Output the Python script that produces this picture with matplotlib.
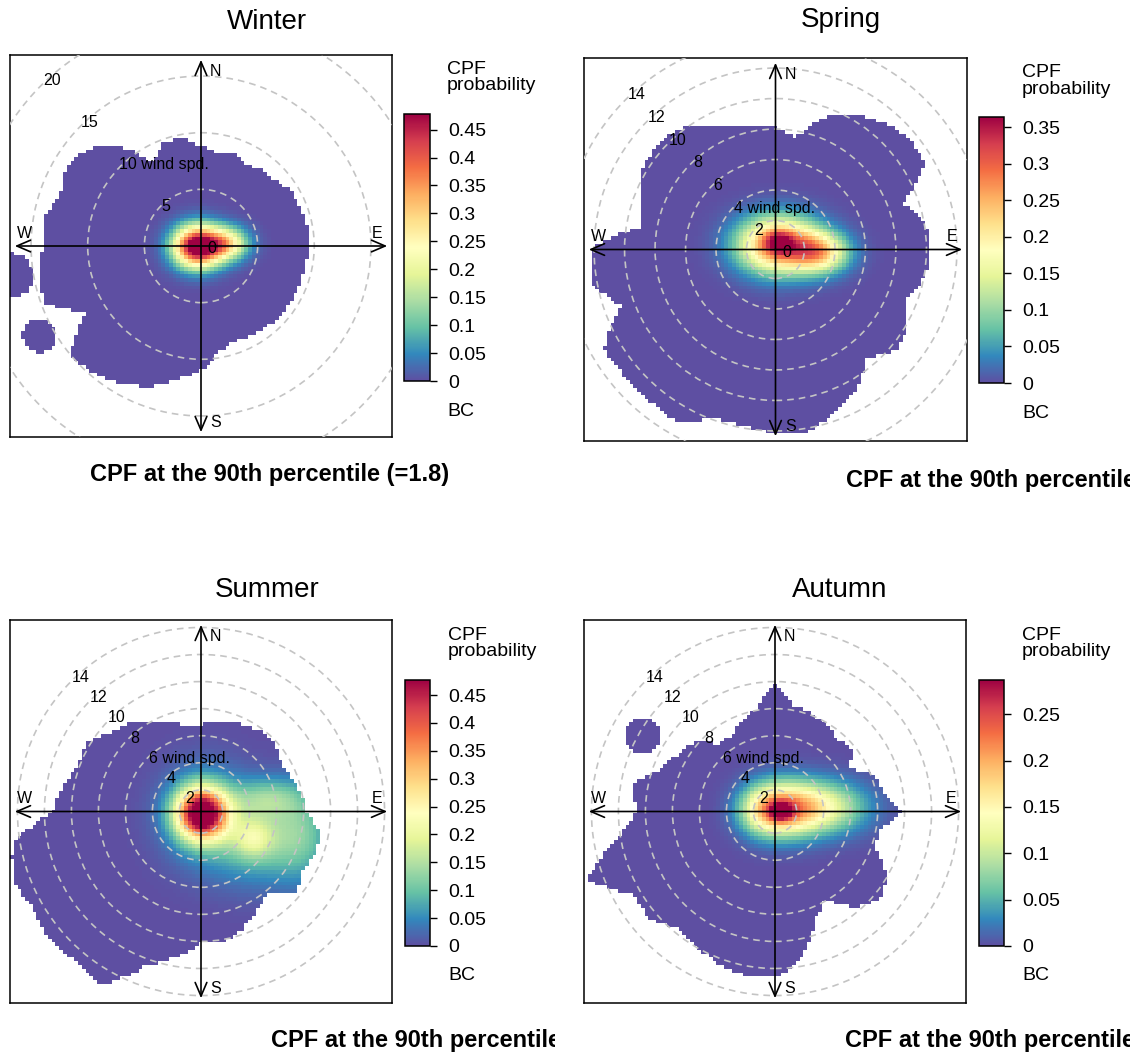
import numpy as np
import matplotlib
matplotlib.use("Agg")
import matplotlib.pyplot as plt
from matplotlib.patches import Circle
from matplotlib.transforms import Bbox
from matplotlib.cm import ScalarMappable
from matplotlib.colors import Normalize

plt.rcParams['font.family'] = ['Liberation Sans', 'DejaVu Sans']

W, H = 1138, 1057

seasons = ["Winter", "Spring", "Summer", "Autumn"]

# compass direction (deg clockwise from N) of each edge reading
edge_dirs = np.arange(0, 360, 10)

# outer edge of the plotted surface per direction (radial plot units)
winter_edge = [8.8, 8.3, 8.6, 8.3, 8.6, 8.8, 9.4, 9.4, 9.5, 9.6, 9.4, 9.4,
               9.4, 9.3, 9.2, 9.0, 8.9, 9.4, 11.0, 11.9, 13.2, 14.0, 14.7, 15.0,
               11.8, 14.7, 14.5, 13.9, 14.1, 13.2, 13.8, 13.2, 11.7, 8.4, 9.7, 9.6]
spring_edge = [8.0, 7.4, 9.2, 10.2, 10.9, 11.4, 11.3, 8.9, 10.0, 10.1, 10.0, 9.2,
               10.0, 10.3, 9.2, 10.7, 11.3, 12.2, 12.1, 11.7, 11.8, 13.0, 12.9, 12.9,
               13.0, 10.8, 12.3, 12.1, 8.9, 9.3, 10.2, 10.3, 10.2, 9.4, 8.5, 8.1]
summer_edge = [6.4, 6.7, 7.0, 7.2, 7.5, 7.3, 6.9, 7.1, 7.6, 7.7, 9.0, 9.0,
               8.7, 9.3, 7.8, 8.3, 9.2, 9.8, 9.8, 10.9, 12.2, 14.8, 14.4, 14.7,
               14.3, 14.8, 14.2, 11.0, 10.4, 9.7, 9.9, 9.0, 8.4, 7.5, 6.9, 6.5]
autumn_edge = [9.5, 7.9, 7.8, 7.4, 7.1, 7.3, 6.4, 7.8, 8.1, 9.3, 7.9, 7.8,
               9.6, 10.1, 9.3, 7.4, 8.6, 11.1, 12.3, 12.3, 12.1, 11.5, 11.3, 12.2,
               12.2, 14.8, 11.9, 10.1, 10.8, 9.0, 8.4, 7.9, 6.5, 6.5, 7.0, 7.7]

# detached patches: (direction deg, distance, radius)
winter_islands = [(241, 16.3, 1.5), (261, 17.0, 2.0)]
spring_islands = []
summer_islands = []
autumn_islands = [(300, 11.3, 1.35)]

# CPF hot spots: (x east, y north, amplitude, spread x, spread y)
winter_spots = [(-0.3, -0.05, 0.55, 1.45, 1.25), (2.3, 0.2, 0.25, 1.3, 1.0)]
spring_spots = [(0.2, 0.3, 0.31, 1.8, 1.25), (0.2, 0.5, 0.10, 0.6, 0.5),
                (2.9, -0.2, 0.20, 1.3, 0.9)]
summer_spots = [(0.05, -0.15, 0.50, 1.3, 1.3), (0.3, 0.0, 0.07, 2.2, 2.4),
                (3.9, -2.0, 0.10, 1.0, 1.0), (4.5, -2.0, 0.11, 3.0, 2.2),
                (7.5, -1.5, 0.06, 1.5, 2.5), (5.0, 1.0, 0.09, 1.8, 1.0)]
autumn_spots = [(0.45, 0.0, 0.12, 0.55, 0.45), (0.6, 0.15, 0.16, 1.7, 1.35),
                (3.3, 0.3, 0.13, 2.3, 1.3), (-1.0, 0.1, 0.08, 1.2, 1.2)]

# wind speed rings and minimum wind speed
winter_rings = [0, 5, 10, 15, 20]
spring_rings = [0, 2, 4, 6, 8, 10, 12, 14]
summer_rings = [2, 4, 6, 8, 10, 12, 14]
autumn_rings = [2, 4, 6, 8, 10, 12, 14]
ws_min = [0.0, 0.1, 0.4, 0.4]
half_range = [16.86, 12.56, 14.15, 14.15]

# colour scale
vmax = [0.478, 0.364, 0.477, 0.287]
winter_ticks = [0, 0.05, 0.1, 0.15, 0.2, 0.25, 0.3, 0.35, 0.4, 0.45]
spring_ticks = [0, 0.05, 0.1, 0.15, 0.2, 0.25, 0.3, 0.35]
summer_ticks = [0, 0.05, 0.1, 0.15, 0.2, 0.25, 0.3, 0.35, 0.4, 0.45]
autumn_ticks = [0, 0.05, 0.1, 0.15, 0.2, 0.25]

edges = [winter_edge, spring_edge, summer_edge, autumn_edge]
islands = [winter_islands, spring_islands, summer_islands, autumn_islands]
spots = [winter_spots, spring_spots, summer_spots, autumn_spots]
rings = [winter_rings, spring_rings, summer_rings, autumn_rings]
ticks = [winter_ticks, spring_ticks, summer_ticks, autumn_ticks]

xlabel = "CPF at the 90th percentile (=1.8)"

# layout in pixels: plot box (x0, y0, x1, y1), colour bar box, titles etc.
boxes = [(10, 55, 392, 437), (584, 58, 967, 441), (10, 620, 392, 1003), (584, 620, 966, 1003)]
cboxes = [(404, 114, 430, 381), (979, 117, 1004, 383), (405, 680, 430, 946), (979, 680, 1004, 946)]
title_pos = [(267, 22), (841, 20), (267, 590), (840, 590)]
xlab_pos = [(90, 475), (846, 480), (271, 1040), (845, 1040)]
xlab_clip = [1130, 1130, 555, 1130]

fig = plt.figure(figsize=(W / 100, H / 100), dpi=100)


def fx(x):
    return x / W


def fy(y):
    return 1 - y / H


def field(X, Y, spot_list):
    Z = np.zeros_like(X)
    for x0, y0, a, sx, sy in spot_list:
        Z += a * np.exp(-0.5 * ((X - x0) / sx) ** 2 - 0.5 * ((Y - y0) / sy) ** 2)
    return Z


cmap = plt.get_cmap('Spectral_r')

for i, name in enumerate(seasons):
    L = half_range[i]
    x0, y0, x1, y1 = boxes[i]
    ax = fig.add_axes([fx(x0), fy(y1), (x1 - x0) / W, (y1 - y0) / H])
    pxu = (x1 - x0) / 2 / L

    g = np.linspace(-L, L, 102)
    c = 0.5 * (g[1:] + g[:-1])
    X, Y = np.meshgrid(c, c)
    R = np.hypot(X, Y)
    comp = np.degrees(np.arctan2(X, Y)) % 360
    lim = np.interp(comp, edge_dirs, edges[i], period=360)
    inside = R <= lim
    for d, s, rad in islands[i]:
        cx, cy = s * np.sin(np.radians(d)), s * np.cos(np.radians(d))
        inside |= np.hypot(X - cx, Y - cy) <= rad
    Z = np.ma.masked_where(~inside, field(X, Y, spots[i]))
    ax.pcolormesh(g, g, Z, cmap=cmap, vmin=0, vmax=vmax[i], shading='flat')

    # dashed rings and labels
    for k, ws in enumerate(rings[i]):
        r = ws - ws_min[i]
        if r > 0.5:
            ax.add_patch(Circle((0, 0), r, fill=False, ec='#C4C4C4', lw=1.2,
                                ls=(0, (4, 3)), zorder=3))
        if ws == 0:
            ax.annotate("0", (0, 0), xytext=(8, -2), textcoords='offset points',
                        ha='center', va='center', fontsize=11.5, zorder=5)
            continue
        rl = r - 4 / pxu
        a = np.radians(132)
        pos = (rl * np.cos(a), rl * np.sin(a))
        if k == 2:
            nd = len(str(ws))
            ax.annotate(f"{ws} wind spd.", pos, xytext=(-3.2 * nd, 0),
                        textcoords='offset points', ha='left', va='center',
                        fontsize=11.5, zorder=5)
        else:
            ax.text(*pos, str(ws), ha='center', va='center', fontsize=11.5, zorder=5)

    # compass arrows
    tip = 0.975 * L
    style = dict(arrowstyle='<->,head_length=0.7,head_width=0.3', color='black',
                 lw=1.2, shrinkA=0, shrinkB=0, mutation_scale=14)
    ax.annotate('', xy=(0, tip), xytext=(0, -tip), arrowprops=style, zorder=4)
    ax.annotate('', xy=(tip, 0), xytext=(-tip, 0), arrowprops=style, zorder=4)
    for lab, px, py in [("N", 0.539, 0.958), ("S", 0.539, 0.037),
                        ("E", 0.961, 0.534), ("W", 0.037, 0.534)]:
        ax.text(px, py, lab, transform=ax.transAxes, ha='center', va='center',
                fontsize=11.5, zorder=5)

    ax.set_xlim(-L, L)
    ax.set_ylim(-L, L)
    ax.set_xticks([])
    ax.set_yticks([])
    for sp in ax.spines.values():
        sp.set_linewidth(1.1)

    # colour bar
    cx0, cy0, cx1, cy1 = cboxes[i]
    cax = fig.add_axes([fx(cx0), fy(cy1), (cx1 - cx0) / W, (cy1 - cy0) / H])
    sm = ScalarMappable(norm=Normalize(0, vmax[i]), cmap=cmap)
    cb = fig.colorbar(sm, cax=cax)
    cb.set_ticks(ticks[i])
    cb.set_ticklabels([f"{t:g}" for t in ticks[i]])
    cb.ax.tick_params(labelsize=14, length=5, width=1, pad=8)
    cb.outline.set_linewidth(1.1)
    fig.text(fx(cx0 + 43), fy(cy0 - 45), "CPF", fontsize=14, ha='left', va='center')
    fig.text(fx(cx0 + 43), fy(cy0 - 28), "probability", fontsize=14, ha='left', va='center')
    fig.text(fx(cx0 + 43), fy(cy1 + 30), "BC", fontsize=14, ha='left', va='center')

    # title and bottom label
    fig.text(fx(title_pos[i][0]), fy(title_pos[i][1]), name, fontsize=20,
             ha='center', va='center')
    t = fig.text(fx(xlab_pos[i][0]), fy(xlab_pos[i][1]), xlabel, fontsize=17,
                 fontweight='bold', ha='left', va='center')
    t.set_clip_box(Bbox([[0, 0], [xlab_clip[i], H]]))
    t.set_clip_on(True)

fig.savefig("out.png", dpi=100, facecolor='white')
